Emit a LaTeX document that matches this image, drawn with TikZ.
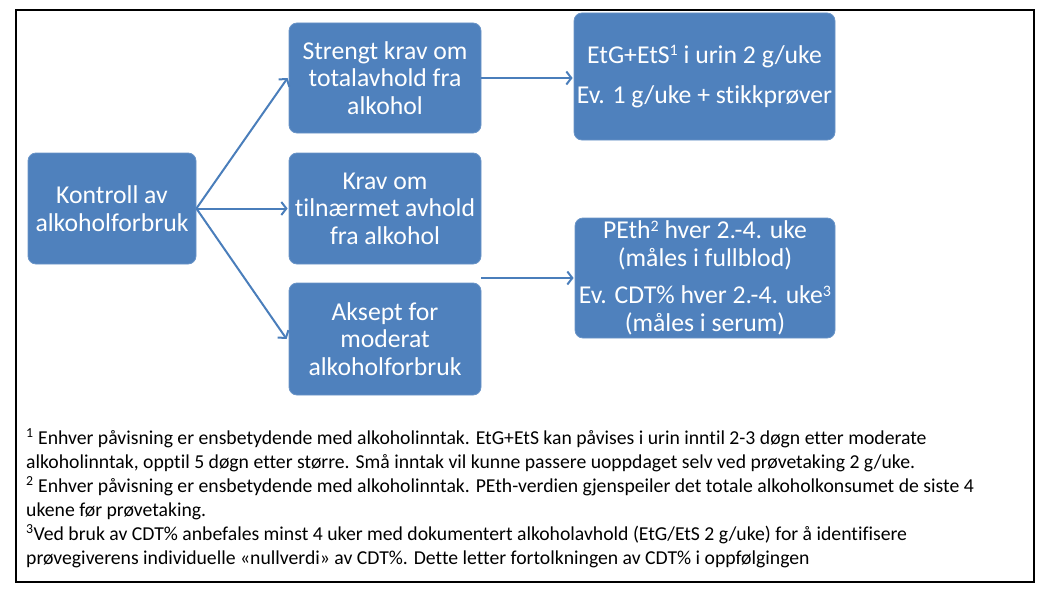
\documentclass[tikz,border=0pt]{standalone}
\usepackage{fontspec}
\setmainfont[Ligatures={NoCommon,NoDiscretionary}]{Carlito}
\usetikzlibrary{arrows.meta}
\definecolor{boxblue}{HTML}{4F81BD}
\definecolor{linkblue}{HTML}{4A7EBB}
\tikzset{
  bluebox/.style={rectangle, rounded corners=8pt, fill=boxblue, draw=boxblue!85!white, line width=0.8pt,
    text=white, align=center, inner sep=0pt, font=\fontsize{25.7}{27.5}\selectfont},
  link/.style={draw=linkblue, line width=2pt, -{Straight Barb[length=5pt,width=13pt,line width=2pt]}},
  frame/.style={draw=black, line width=2pt}
}
\newcommand{\supnum}[1]{\raisebox{0.6ex}{\fontsize{16}{16}\selectfont #1}}
\begin{document}
\begin{tikzpicture}[x=1pt,y=-1pt]
\useasboundingbox (0,0) rectangle (1051,599);
\draw[frame] (16,10) rectangle (1034,582);

\node[bluebox, minimum width=168pt, minimum height=111pt] (K) at (112,208.5) {Kontroll av\\alkoholforbruk};
\node[bluebox, minimum width=192pt, minimum height=110pt] (S) at (385,78) {Strengt krav om\\totalavhold fra\\alkohol};
\node[bluebox, minimum width=192pt, minimum height=111pt] (R) at (385,208.5) {Krav om\\tilnærmet avhold\\fra alkohol};
\node[bluebox, minimum width=192pt, minimum height=112pt] (A) at (385,339) {Aksept for\\moderat\\alkoholforbruk};
\node[bluebox, minimum width=261pt, minimum height=127pt] (E) at (704.5,76.5) {EtG+EtS\supnum{1} i urin 2 g/uke\\[12.5pt]Ev. 1 g/uke + stikkprøver};
\node[bluebox, minimum width=260pt, minimum height=120pt] (P) at (705,278) {PEth\supnum{2} hver 2.-4. uke\\(måles i fullblod)\\[10pt]Ev. CDT\% hver 2.-4. uke\supnum{3}\\(måles i serum)};

\coordinate (m) at (R.east |- P.west);

\draw[link] (K.east) -- ([xshift=-1pt]S.west);
\draw[link] (K.east) -- ([xshift=-1pt]R.west);
\draw[link] (K.east) -- ([xshift=-2pt]A.west);
\draw[link] (S.east) -- ([xshift=-1pt]S.east -| E.west);
\draw[link] (m) -- ([xshift=-1pt]P.west);

\node[anchor=north west, align=left, inner sep=0pt, font=\fontsize{19.7}{24}\selectfont] (F) at (26,428) {%
\textsuperscript{1} Enhver påvisning er ensbetydende med alkoholinntak. EtG+EtS kan påvises i urin inntil 2-3 døgn etter moderate\\
alkoholinntak, opptil 5 døgn etter større. Små inntak vil kunne passere uoppdaget selv ved prøvetaking 2 g/uke.\\
\textsuperscript{2} Enhver påvisning er ensbetydende med alkoholinntak. PEth-verdien gjenspeiler det totale alkoholkonsumet de siste 4\\
ukene før prøvetaking.\\
\textsuperscript{3}Ved bruk av CDT\% anbefales minst 4 uker med dokumentert alkoholavhold (EtG/EtS 2 g/uke) for å identifisere\\
prøvegiverens individuelle «nullverdi» av CDT\%. Dette letter fortolkningen av CDT\% i oppfølgingen};
\end{tikzpicture}
\end{document}
